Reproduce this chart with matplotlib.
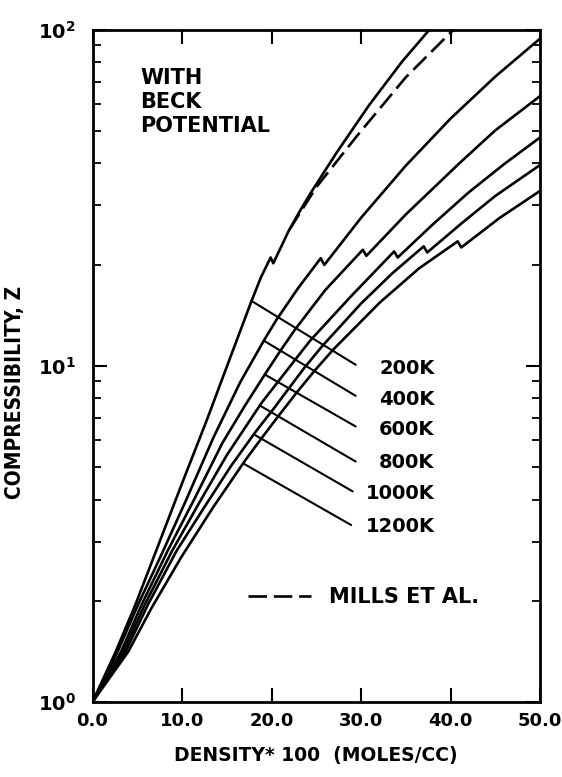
import matplotlib
matplotlib.use("Agg")
import numpy as np
import matplotlib.pyplot as plt
from matplotlib.lines import Line2D

# ---------------- data ----------------
temps = ["200K", "400K", "600K", "800K", "1000K", "1200K"]

x_200 = [0, 2.6, 4.8, 7.1, 10.0, 12.75, 15.0, 17.7, 18.8, 19.9, 20.2, 21.9, 23.1, 24.4, 27.3, 30.9, 34.6, 37.5, 38.5]
z_200 = [1.0, 1.413, 1.95, 2.812, 4.467, 6.871, 9.93, 15.42, 18.28, 20.99, 20.18, 25.12, 28.64, 32.73, 43.15, 59.57, 80.35, 98.86, 105.9]

x_400 = [0, 2.9, 5.1, 7.9, 10.5, 13.5, 16.5, 19.19, 20.56, 23.0, 25.5, 25.9, 30.0, 35.0, 40.0, 45.0, 50.0]
z_400 = [1.0, 1.429, 1.95, 2.818, 4.009, 6.109, 8.93, 11.94, 13.71, 17.06, 20.89, 19.95, 27.54, 39.36, 54.33, 72.44, 93.97]

x_600 = [0, 3.2, 5.5, 8.4, 11.5, 14.5, 17.0, 19.37, 21.0, 22.63, 26.0, 30.2, 30.6, 35.0, 41.1, 45.0, 50.0]
z_600 = [1.0, 1.413, 1.95, 2.818, 4.074, 5.888, 7.586, 9.528, 11.09, 12.82, 16.79, 22.13, 21.23, 28.18, 40.27, 50.12, 63.39]

x_800 = [0, 3.45, 5.85, 8.9, 12.0, 15.0, 18.87, 20.95, 22.7, 24.33, 29.0, 33.7, 34.1, 38.0, 42.0, 46.0, 50.0]
z_800 = [1.0, 1.413, 1.95, 2.818, 3.945, 5.42, 7.745, 9.12, 10.47, 11.89, 16.22, 21.88, 20.99, 26.3, 32.73, 39.81, 47.75]

x_1000 = [0, 3.7, 6.2, 9.4, 12.5, 15.5, 18.26, 20.2, 22.0, 23.7, 25.65, 30.0, 33.5, 37.0, 37.4, 41.3, 45.0, 50.0]
z_1000 = [1.0, 1.413, 1.95, 2.818, 3.80, 5.047, 6.383, 7.43, 8.61, 9.886, 11.43, 15.31, 18.84, 22.65, 21.73, 26.61, 31.99, 39.54]

x_1200 = [0, 4.0, 6.6, 9.9, 13.5, 17.12, 18.9, 20.9, 22.8, 24.8, 26.96, 32.1, 36.5, 40.8, 41.2, 45.5, 50.0]
z_1200 = [1.0, 1.413, 1.905, 2.692, 3.802, 5.26, 6.095, 7.161, 8.318, 9.66, 11.22, 15.42, 19.5, 23.44, 22.49, 27.54, 33.11]

# Mills et al. (dashed)
x_mills = [22.0, 25.0, 29.5, 35.0, 39.9, 40.5]
z_mills = [25.4, 33.96, 48.08, 72.1, 97.3, 100.9]

curves_x = [x_200, x_400, x_600, x_800, x_1000, x_1200]
curves_z = [z_200, z_400, z_600, z_800, z_1000, z_1200]

# densities where each label's leader line touches its curve
leader_x = [17.77, 19.14, 19.25, 18.69, 18.02, 16.83]

x_ticks = [0, 10, 20, 30, 40, 50]
x_ticklabels = ["0.0", "10.0", "20.0", "30.0", "40.0", "50.0"]
y_ticks = [1, 10, 100]
y_ticklabels = [r"$\mathbf{10^{0}}$", r"$\mathbf{10^{1}}$", r"$\mathbf{10^{2}}$"]

# ---------------- figure ----------------
plt.rcParams["font.family"] = ["DejaVu Sans"]
plt.rcParams["font.weight"] = "bold"

fig = plt.figure(figsize=(5.62, 7.77), dpi=100)
ax = fig.add_axes([0.1646, 0.0965, 0.7963, 0.8655])
ax.set_yscale("log")
ax.set_xlim(0, 50)
ax.set_ylim(1, 100)

lw = 1.9
for xs, zs in zip(curves_x, curves_z):
    ax.plot(xs, zs, color="black", lw=lw, solid_joinstyle="round")

ax.plot(x_mills, z_mills, color="black", lw=lw, linestyle=(0, (7, 2.6)))

# leader lines + labels (annotation layout)
end_x = [29.4, 29.4, 29.4, 29.4, 29.07, 28.9]
end_z = [10.07, 8.14, 6.6, 5.19, 4.23, 3.36]
lab_z = [9.79, 7.92, 6.45, 5.14, 4.16, 3.32]
for t, lx, xs, zs, ex, ez, lz in zip(temps, leader_x, curves_x, curves_z, end_x, end_z, lab_z):
    lz0 = 10 ** np.interp(lx, xs, np.log10(zs))
    ax.annotate("", xy=(lx, lz0), xytext=(ex, ez),
                arrowprops=dict(arrowstyle="-", color="black", lw=1.5,
                                shrinkA=0, shrinkB=0))
    ax.text(38.2, lz, t, ha="right", va="center", fontsize=14, fontweight="bold")

ax.text(5.3, 77, "WITH\nBECK\nPOTENTIAL", ha="left", va="top", fontsize=15,
        fontweight="bold", linespacing=1.25)

handle = Line2D([], [], color="black", lw=lw, linestyle=(0, (7, 2.6)))
ax.legend([handle], ["MILLS ET AL."], loc="center left",
          bbox_to_anchor=(0.3475, 0.156), frameon=False, borderpad=0,
          borderaxespad=0, handlelength=3.0, handletextpad=0.9,
          prop=dict(size=15, weight="bold"))

# axes styling
for s in ax.spines.values():
    s.set_linewidth(2.0)
ax.set_xticks(x_ticks)
ax.set_xticklabels(x_ticklabels, fontsize=13, fontweight="bold")
ax.set_yticks(y_ticks)
ax.set_yticklabels(y_ticklabels, fontsize=14)
ax.tick_params(which="both", direction="in", top=True, right=True)
ax.tick_params(which="major", length=10, width=1.5)
ax.tick_params(which="minor", length=6, width=1.3)
ax.tick_params(axis="x", pad=7)
ax.tick_params(axis="y", pad=12)

ax.set_xlabel("DENSITY* 100  (MOLES/CC)", fontsize=13.5, fontweight="bold", labelpad=12)
ax.set_ylabel("COMPRESSIBILITY, Z", fontsize=15, fontweight="bold", fontstretch="condensed")
ax.yaxis.set_label_coords(-0.15, 0.46)

fig.savefig("out.png", dpi=100, facecolor="white")
